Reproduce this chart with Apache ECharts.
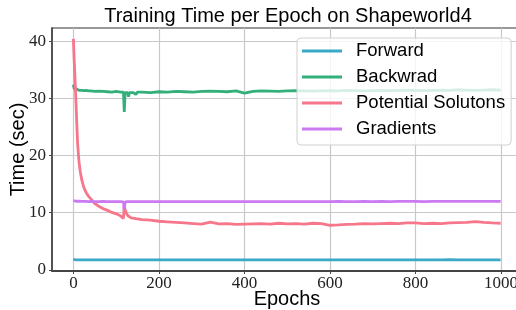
<!DOCTYPE html>
<html>
<head>
<meta charset="utf-8">
<script src="https://cdn.jsdelivr.net/npm/echarts@6/dist/echarts.min.js"></script>
<style>
html,body{margin:0;padding:0;background:#fff;}
#chart{width:516px;height:310px;}
</style>
</head>
<body>
<div id="chart"></div>
<script>
// epochs (denser where the curves move)
const epochs = [0,2,4,6,8,10,13,16,20,25,30,35,40,50,60,70,80,90,100,110,114,117,119,121,124,127,129,131,135,140,146,150,
    160,180,200,220,240,260,280,300,320,340,360,380,400,420,440,460,480,500,520,540,560,580,600,620,640,660,680,700,
    720,740,760,780,800,820,840,860,880,900,920,940,960,980,999];

const forward = [1.82,1.78,1.76,1.76,1.75,1.76,1.75,1.75,1.76,1.75,1.75,1.74,1.75,1.75,1.74,1.75,1.75,1.74,1.75,1.74,1.75,1.74,1.72,1.74,1.75,1.74,1.75,1.74,1.75,1.74,1.74,1.75,
    1.74,1.75,1.74,1.74,1.75,1.74,1.74,1.75,1.74,1.74,1.75,1.74,1.74,1.75,1.74,1.74,1.75,1.74,1.74,1.75,1.74,1.74,1.75,1.74,1.74,1.75,1.74,1.74,
    1.75,1.74,1.74,1.75,1.74,1.74,1.75,1.74,1.8,1.74,1.75,1.74,1.74,1.75,1.74];

const backward = [32.4,31.7,31.6,31.5,31.6,31.5,31.4,31.5,31.4,31.35,31.4,31.3,31.3,31.2,31.25,31.2,31.15,31.1,31.2,31.1,31.0,31.1,27.6,31.0,31.1,31.0,30.3,31.0,31.1,31.0,30.7,31.1,
    31.1,31.0,31.15,31.1,31.2,31.15,31.1,31.2,31.25,31.2,31.15,31.3,30.9,31.2,31.3,31.25,31.2,31.3,31.35,31.3,31.25,31.3,31.35,31.3,31.4,31.35,31.3,31.35,
    31.4,31.35,31.4,31.45,31.4,31.35,31.4,31.45,31.4,31.5,31.45,31.4,31.45,31.5,31.45];

const potential = [40.4,36.5,33.0,29.5,25.5,22.0,19.0,17.2,15.6,14.3,13.5,12.9,12.5,11.6,11.1,10.7,10.4,10.05,9.8,9.45,9.2,9.0,11.3,10.5,9.9,9.5,9.3,9.2,9.1,9.05,8.95,8.9,
    8.8,8.7,8.5,8.4,8.3,8.2,8.1,8.0,8.35,8.05,8.1,7.95,8.0,8.05,8.1,8.0,8.15,8.05,8.1,8.0,8.15,8.1,7.8,7.85,7.95,8.0,8.1,8.05,
    8.1,8.15,8.1,8.2,8.2,8.1,8.15,8.1,8.2,8.25,8.3,8.45,8.3,8.2,8.15];

const gradients = [12.1,12.05,12.0,12.0,12.02,11.98,12.0,11.97,11.98,11.96,11.97,11.95,11.96,11.95,11.94,11.96,11.95,11.94,11.95,11.94,11.93,11.9,10.5,11.9,11.94,11.95,11.93,11.95,11.94,11.95,11.93,11.95,
    11.94,11.95,11.93,11.94,11.95,11.93,11.94,11.95,11.94,11.93,11.95,11.94,11.95,11.93,11.94,11.95,11.94,11.95,11.93,11.94,11.95,11.94,11.95,11.96,11.94,11.95,11.96,11.95,
    11.96,11.95,11.96,11.97,11.96,11.95,11.96,11.97,11.96,11.97,11.96,11.97,11.98,11.97,11.98];

const seriesNames = ['Forward', 'Backwrad', 'Potential Solutons', 'Gradients'];
const seriesData = [forward, backward, potential, gradients];
const colors = ['#3aa8c6', '#33b07a', '#f6768b', '#cc7af2'];
const xTicks = [0, 200, 400, 600, 800, 1000];
const yTicks = [0, 10, 20, 30, 40];

const chart = echarts.init(document.getElementById('chart'));

let series = seriesNames.map((name, i) => {
    return {
        type: 'line',
        name: name,
        symbol: 'none',
        lineStyle: { width: 2.8 },
        data: epochs.map((e, j) => [e, seriesData[i][j]])
    };
});

let option = {
    animation: false,
    color: colors,
    title: {
        text: 'Training Time per Epoch on Shapeworld4',
        left: 283,
        textAlign: 'center',
        top: 1,
        textStyle: { fontFamily: 'Liberation Sans', fontSize: 20, fontWeight: 'normal', color: '#000' }
    },
    grid: {
        left: 52,
        top: 28,
        right: -6,
        bottom: 39,
        show: true,
        borderColor: '#333',
        borderWidth: 1.2,
        containLabel: false,
        outerBoundsMode: 'none'
    },
    legend: {
        orient: 'vertical',
        left: 297,
        top: 38,
        icon: 'rect',
        itemWidth: 40,
        itemHeight: 3,
        itemGap: 6,
        padding: [3, 6, 6, 5],
        backgroundColor: 'rgba(255,255,255,0.8)',
        borderColor: '#d0d0d0',
        borderWidth: 1,
        borderRadius: 4,
        textStyle: { fontFamily: 'Liberation Sans', fontSize: 18.5, color: '#000', lineHeight: 20, padding: [0, 0, 0, 9] },
        data: seriesNames
    },
    xAxis: {
        type: 'value',
        min: -50,
        max: 1049,
        name: 'Epochs',
        nameLocation: 'middle',
        nameGap: 18,
        nameMoveOverlap: false,
        nameTextStyle: { fontFamily: 'Liberation Sans', fontSize: 20, color: '#000', verticalAlign: 'top' },
        axisLine: { show: true, onZero: false, lineStyle: { color: '#444', width: 2 } },
        axisTick: { show: true, length: 3, customValues: xTicks, lineStyle: { color: '#444' } },
        axisLabel: { customValues: xTicks, margin: 4, fontFamily: 'Liberation Serif', fontSize: 17, color: '#222',
            formatter: v => String(v) },
        splitLine: { show: true, lineStyle: { color: '#c8c8c8', width: 1.2 } }
    },
    yAxis: {
        type: 'value',
        min: -0.2,
        max: 42.3,
        name: 'Time (sec)',
        nameLocation: 'middle',
        nameGap: 24,
        nameMoveOverlap: false,
        nameTextStyle: { fontFamily: 'Liberation Sans', fontSize: 20, color: '#000' },
        axisLine: { show: true, onZero: false, lineStyle: { color: '#444', width: 1.5 } },
        axisTick: { show: true, length: 3, customValues: yTicks, lineStyle: { color: '#444' } },
        axisLabel: { customValues: yTicks, margin: 6, fontFamily: 'Liberation Serif', fontSize: 17, color: '#222',
            formatter: v => String(v) },
        splitLine: { show: true, lineStyle: { color: '#c8c8c8', width: 1.2 } }
    },
    series: series
};
chart.setOption(option);
</script>
</body>
</html>
